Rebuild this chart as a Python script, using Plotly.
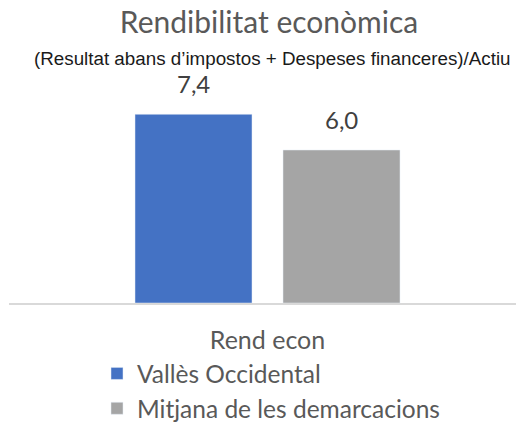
import plotly.graph_objects as go

categories = ["Rend econ"]
series_names = ["Vallès Occidental", "Mitjana de les demarcacions"]
series_values = [[7.4], [6.0]]
colors = ["#4472C4", "#A5A5A5"]

title_text = "Rendibilitat econòmica"
subtitle_text = "(Resultat abans d\u2019impostos + Despeses financeres)/Actiu"

W, H = 517, 423
ml, mr, mt, mb = 9, 1, 80, 120
plot_w = W - ml - mr
plot_h = H - mt - mb

slot_px, bar_px = 148, 117
slot_u = slot_px / plot_w

center_px = 267.5
left_u = -(center_px - ml) / plot_w
right_u = left_u + 1.0

fig = go.Figure()
annotations = []
n = len(series_names)
for i, (name, vals, col) in enumerate(zip(series_names, series_values, colors)):
    fig.add_trace(go.Bar(
        x=categories, y=vals, name=name, marker_color=col,
        legendgroup=name, cliponaxis=False,
    ))
    for ci, v in enumerate(vals):
        annotations.append(dict(
            x=ci + (i - (n - 1) / 2) * slot_u, y=v, xref="x", yref="y",
            text=f"{v:.1f}".replace(".", ","), showarrow=False,
            xanchor="center", yanchor="bottom", yshift=14,
            font=dict(family="Lato", size=24, color="#404040"),
        ))

annotations.append(dict(text=subtitle_text, xref="paper", yref="paper",
                        x=(272 - ml) / plot_w, y=1 + (mt - 59) / plot_h,
                        xanchor="center", yanchor="middle", showarrow=False,
                        font=dict(family="Liberation Sans", size=18.8, color="#1a1a1a")))

fig.update_layout(
    width=W, height=H,
    margin=dict(l=ml, r=mr, t=mt, b=mb, pad=0, autoexpand=False),
    paper_bgcolor="white", plot_bgcolor="white",
    barmode="group", bargap=1 - 2 * slot_px / plot_w, bargroupgap=1 - bar_px / slot_px,
    title=dict(text=title_text, x=269 / W, xanchor="center",
               y=1 - 22 / H, yanchor="middle",
               font=dict(family="Lato", size=30, color="#595959")),
    annotations=annotations,
    xaxis=dict(range=[left_u, right_u], showline=True, linecolor="#D9D9D9", linewidth=1.5,
               tickfont=dict(family="Lato", size=25, color="#595959"), ticks="",
               ticklabelstandoff=14, showgrid=False, zeroline=False),
    yaxis=dict(range=[0, plot_h / 25.5], visible=False, showgrid=False, zeroline=False),
    showlegend=True,
    legend=dict(x=(97 - ml) / plot_w, y=(303 - 351) / plot_h, xanchor="left", yanchor="top",
                orientation="v", font=dict(family="Lato", size=24.5, color="#595959"),
                bgcolor="rgba(0,0,0,0)", traceorder="grouped", tracegroupgap=0),
)

fig.write_html("out.html", config={"displayModeBar": False},
               post_script="document.body.style.margin='0';")
